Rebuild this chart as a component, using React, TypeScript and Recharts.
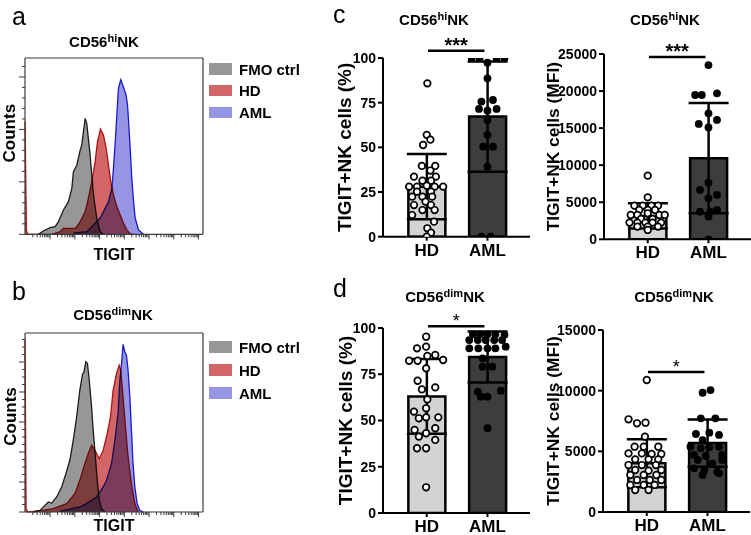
import { Area, Bar, Cell, ComposedChart, ErrorBar, ReferenceLine, Scatter, XAxis, YAxis } from 'recharts'

const FONT = '"Liberation Sans", Arial, Helvetica, sans-serif'
const BOX = '#3a3a3a'

// ---- histograms: x = TIGIT channel (0-100 of the plotted range), y = % of max count
const fmoHi: Array<[number, number]> = [
  [7.5, 0], [10.3, 1.9], [14.1, 3.8], [16.9, 4.3], [18.8, 7.2], [21.6, 13.8], [24.4, 18.5], [26.3, 26],
  [27.2, 35.5], [29.1, 39.2], [31, 47.7], [31.9, 50.6], [32.8, 58.1], [33.8, 65.7], [34.7, 62.8],
  [35.6, 54.3], [36.6, 44.9], [37.5, 33.6], [38.5, 22.3], [40.3, 9.1], [42.2, 1.5], [44.1, 0],
]
const hdHi: Array<[number, number]> = [
  [0, 64], [0.8, 2], [1.6, 0], [15, 0], [19.7, 1.5], [21.6, 3.4], [28.1, 3.4], [29.1, 4.3], [31, 7.2],
  [33.8, 12.8], [35.6, 20.4], [37.5, 29.8], [39.4, 41.1], [40.7, 52.3], [42.4, 59.6], [44.1, 56.2],
  [45.6, 48.7], [46.9, 39.2], [48.2, 29.8], [49.7, 22.3], [51.6, 15.7], [53.5, 10.9], [55.3, 6.2],
  [57.2, 2.5], [59.1, 0.2], [61, 0],
]
const amlHi: Array<[number, number]> = [
  [27.2, 0.6], [34.7, 1.5], [40.3, 7.2], [42.2, 9.1], [45, 14.7], [46.9, 18.5], [48.8, 26], [49.7, 37.4],
  [50.7, 52.5], [51.6, 67.5], [52.5, 82.6], [53.8, 87.7], [55.3, 83.6], [56.8, 78.9], [57.6, 73.2],
  [58.2, 63.8], [59.1, 48.7], [60, 31.7], [61, 18.5], [61.9, 9.1], [63.8, 2.5], [66.6, 0],
]
const fmoDim: Array<[number, number]> = [
  [4.7, 0], [8.4, 0.9], [11.2, 3.7], [13.1, 5.6], [15, 5], [17.8, 8.4], [20.6, 14], [22.4, 19.6],
  [25.2, 28.9], [27.1, 40], [29, 53], [30.8, 68], [32.3, 77], [33.1, 78], [34.2, 84], [35.1, 83],
  [36.1, 73.6], [37.4, 58.7], [38.3, 45.6], [39.4, 32.6], [40.6, 17.7], [41.7, 6.5], [43, 1.9], [44.9, 0],
]
const hdDim: Array<[number, number]> = [
  [0, 96], [0.6, 2], [1.5, 0], [8.4, 0.6], [15.9, 1.9], [23.4, 4.7], [28, 10.2], [30.8, 17.7], [33.6, 27],
  [35.5, 32.6], [37.4, 37.2], [39.3, 34.4], [41.7, 29.8], [43.9, 34.4], [46.2, 43.8], [48, 53.1],
  [49.5, 68], [51.4, 77.3], [52.9, 82], [53.8, 79], [55.1, 64.2], [56.6, 45.6], [57.9, 30.7],
  [59.8, 15.8], [61.7, 4.7], [63.6, 0],
]
const amlDim: Array<[number, number]> = [
  [19.6, 0.4], [30.8, 2.8], [34.6, 4.7], [40.2, 8.4], [43.9, 14], [45.8, 17.7], [48.6, 27], [50.5, 40],
  [52.3, 55], [53.3, 73.6], [54.4, 84.7], [55.1, 93.7], [56.1, 89.4], [57, 87.5], [57.9, 79.1],
  [58.9, 64.2], [59.8, 45.6], [60.7, 27], [61.7, 14], [63, 4.7], [64.5, 0.9], [66.4, 0],
]

const histSeries = [
  { name: 'FMO ctrl', fill: '#979797', stroke: '#1c1c1c' },
  { name: 'HD', fill: '#d26666', stroke: '#b01212' },
  { name: 'AML', fill: '#9595e3', stroke: '#1a1acc' },
]

// log-style TIGIT ticks: decade starts + minor ticks inside each decade
const decadeStarts = [0.2, 14.1, 28, 41.9, 55.8, 69.7, 83.6]
const DECADE = 13.9
const tigitMajors = decadeStarts.map((d) => +(d + DECADE).toFixed(2))
const tigitTicks = decadeStarts.flatMap((d) =>
  [2, 3, 4, 5, 6, 7, 8, 9, 10].map((k) => +(d + DECADE * Math.log10(k)).toFixed(2)),
)
const countTicksHi = Array.from({ length: 17 }, (_, i) => +(i * 5.95).toFixed(2))
const countTicksDim = Array.from({ length: 24 }, (_, i) => +(i * 4.19).toFixed(2))

// ---- dot/bar panels: [jitter within group, value]
const groups = ['HD', 'AML']

const pctHiMeans = [28, 67.2]
const pctHiSd = [18.3, 30.8]
const pctHiHD: Array<[number, number]> = [
  [0.01, 85.8], [0, 57], [0.06, 54.3], [-0.06, 51.3], [-0.08, 39.6], [0.14, 39.6], [0.06, 37], [-0.21, 33.6],
  [0.15, 33.6], [-0.07, 31.3], [0.07, 31.3], [-0.29, 28], [-0.16, 28], [0, 28.5], [0.13, 28], [0.27, 28],
  [-0.16, 25.2], [0.07, 25.2], [-0.24, 22.4], [-0.07, 22.4], [0.09, 22.4], [-0.02, 19.6], [-0.21, 17.7],
  [0.07, 17.7], [-0.07, 14.9], [0.13, 14.9], [-0.24, 12.1], [0.12, 8.4], [0.01, 4.7], [0.07, 2.2], [0, 0],
]
const pctHiAML: Array<[number, number]> = [
  [-0.26, 100], [-0.13, 100], [0.15, 100], [0.28, 100], [0, 97.4], [0, 88.6], [-0.1, 75.6], [0.09, 76.5],
  [-0.14, 71.5], [0, 70.5], [0.15, 71.5], [0, 65.3], [0, 57], [-0.07, 50.4], [0.09, 50.4], [0, 39.2],
  [-0.1, 0], [0.05, 0],
]

const mfiHiMeans = [3150, 10950]
const mfiHiSd = [1700, 7450]
const mfiHiHD: Array<[number, number]> = [
  [0, 8590], [0, 5660], [-0.22, 4540], [-0.08, 4540], [0.06, 4540], [0.17, 4540], [-0.14, 3960], [0, 3960],
  [0.12, 3960], [-0.28, 3280], [-0.17, 3280], [0, 3510], [0.19, 3280], [0.28, 3280], [-0.11, 2740],
  [0.08, 2740], [-0.3, 2250], [-0.17, 2250], [-0.04, 2250], [0.08, 2250], [0.22, 2250], [-0.17, 1710],
  [0, 1710], [0.17, 1710], [0, 1260],
]
const mfiHiAML: Array<[number, number]> = [
  [0, 23500], [-0.22, 19470], [-0.11, 19470], [0.14, 19690], [0, 17000], [-0.16, 15560], [0.14, 16100],
  [0, 15100], [0, 7640], [-0.14, 6650], [0.14, 5980], [0, 5530], [0.14, 3960], [-0.14, 3730], [0.03, 3730],
  [0, 3060], [0, 0],
]

const pctDimMeans = [63, 84.3]
const pctDimSd = [20.2, 13.8]
const pctDimHD: Array<[number, number]> = [
  [-0.01, 95.3], [-0.16, 89], [-0.01, 89.9], [-0.29, 82.3], [-0.15, 82.3], [0.01, 84.9], [0.14, 85.4],
  [0.27, 82.7], [-0.01, 78.2], [-0.15, 71.5], [0.14, 67.9], [-0.08, 66.8], [0.01, 61.4], [-0.21, 54.8],
  [-0.01, 56.6], [-0.13, 51.2], [-0.01, 51.7], [0.19, 51.7], [-0.2, 44.9], [0.14, 45.8], [-0.01, 43.1],
  [-0.13, 41.3], [0.14, 39.5], [-0.16, 35], [-0.01, 35], [-0.01, 13.9],
]
const pctDimAML: Array<[number, number]> = [
  [-0.24, 96.6], [-0.12, 96.6], [0, 96.6], [0.13, 96.6], [0.28, 96.3], [-0.3, 93.5], [-0.16, 93.5],
  [-0.03, 93.5], [0.11, 93.5], [0.24, 93.5], [-0.3, 89], [-0.15, 89], [0, 89], [0.13, 89], [0.3, 89.9],
  [-0.08, 83.6], [-0.08, 79.1], [0.08, 79.1], [-0.16, 65.6], [0.22, 66.1], [0, 62.9], [-0.11, 62.9], [0, 45.8],
]

const mfiDimMeans = [4010, 5680]
const mfiDimSd = [1980, 1950]
const mfiDimHD: Array<[number, number]> = [
  [0, 10880], [-0.3, 7640], [-0.16, 7310], [-0.02, 7360], [-0.03, 6210], [-0.2, 5380], [-0.05, 5380],
  [0.19, 5380], [-0.3, 4830], [-0.08, 4830], [0.08, 4780], [0.24, 4780], [-0.19, 4340], [0.03, 4340],
  [0.19, 4340], [-0.3, 3870], [-0.08, 3870], [0.15, 3870], [-0.19, 3460], [0.03, 3410], [0.24, 3460],
  [-0.27, 3050], [-0.05, 3050], [0.16, 3050], [-0.16, 2640], [0.05, 2640], [0.24, 2640], [-0.27, 2230],
  [-0.05, 2230], [0.13, 2230], [-0.19, 1810], [0.03, 1810],
]
const mfiDimAML: Array<[number, number]> = [
  [-0.08, 9830], [0.05, 10050], [-0.11, 7720], [0.13, 7720], [-0.19, 6430], [0.03, 6540], [0.19, 6350],
  [-0.08, 5930], [-0.28, 5380], [-0.11, 5250], [0.03, 5330], [0.19, 5380], [-0.22, 4700], [-0.03, 4620],
  [0.24, 4700], [-0.16, 4290], [0.08, 4010], [0.24, 4290], [-0.22, 3600], [-0.05, 3460], [0.16, 3320],
  [-0.08, 3050], [0.19, 3190],
]

const SideTitle = ({ viewBox, text, offset, shift = 0, size }: any) => {
  if (!viewBox) return null
  const x = viewBox.x + viewBox.width - offset
  const y = viewBox.y + viewBox.height / 2 + shift
  return (
    <text x={x} y={y} transform={`rotate(-90, ${x}, ${y})`} textAnchor="middle" dominantBaseline="central"
      fontFamily={FONT} fontWeight={700} fontSize={size} fill="#000">
      {text}
    </text>
  )
}

const CountTick = ({ x, y, index, majorEvery }: any) => (
  <line x1={x} y1={y} x2={x - (index % majorEvery === 0 ? 6 : 3)} y2={y} stroke={BOX} strokeWidth={1} />
)

const TigitTick = ({ x, y, payload }: any) => (
  <line x1={x} y1={y} x2={x} y2={y + (tigitMajors.includes(payload.value) ? 5 : 3)} stroke={BOX} strokeWidth={1} />
)

type HistProps = {
  top: number
  plotHeight: number
  labelGap: number
  countsShift: number
  traces: Array<Array<[number, number]>>
  countTicks: number[]
  majorEvery: number
  legendTop: number
  legendStep: number
}

function Histogram({ top, plotHeight, labelGap, countsShift, traces, countTicks, majorEvery, legendTop, legendStep }: HistProps) {
  return (
    <>
      <div style={{ position: 'absolute', left: 0, top: top - 2 }}>
        <ComposedChart width={205} height={2 + plotHeight + labelGap * 2} margin={{ top: 2, right: 2, bottom: 0, left: 0 }}>
          <XAxis dataKey="x" type="number" domain={[0, 100]} ticks={tigitTicks} interval={0}
            tickLine={false} tickSize={0} tickMargin={0} tick={<TigitTick />} height={labelGap * 2}
            axisLine={{ stroke: BOX, strokeWidth: 1.2 }}
            label={{
              content: (p: any) => p.viewBox ? (
                <text x={p.viewBox.x + p.viewBox.width / 2} y={p.viewBox.y + p.viewBox.height / 2} textAnchor="middle"
                  dominantBaseline="central" fontFamily={FONT} fontWeight={700} fontSize={16} fill="#000">TIGIT</text>
              ) : null,
            }} />
          <YAxis dataKey="y" type="number" domain={[0, 100]} ticks={countTicks} interval={0} width={25}
            tickLine={false} tickSize={0} tickMargin={0} tick={<CountTick majorEvery={majorEvery} />}
            axisLine={{ stroke: BOX, strokeWidth: 1.2 }}
            label={{ content: (p: any) => <SideTitle viewBox={p.viewBox} text="Counts" offset={15} shift={countsShift} size={17} /> }} />
          {traces.map((points, i) => (
            <Area key={histSeries[i].name} className="hist-trace" data={points.map(([x, y]) => ({ x, y }))} dataKey="y"
              type="linear" fill={histSeries[i].fill} fillOpacity={1} stroke={histSeries[i].stroke} strokeWidth={1.3}
              dot={false} activeDot={false} isAnimationActive={false} />
          ))}
          <ReferenceLine y={100} stroke={BOX} strokeWidth={1.2} ifOverflow="visible" />
          <ReferenceLine x={100} stroke={BOX} strokeWidth={1.2} ifOverflow="visible" />
        </ComposedChart>
      </div>
      {histSeries.map((s, i) => (
        <div key={s.name} style={{ position: 'absolute', left: 209, top: legendTop + i * legendStep, display: 'flex', alignItems: 'center', height: 12 }}>
          <div style={{ width: 23, height: 11.5, background: s.fill }} />
          <span style={{ marginLeft: 7, fontFamily: FONT, fontWeight: 700, fontSize: 15, color: '#000', whiteSpace: 'nowrap' }}>{s.name}</span>
        </div>
      ))}
    </>
  )
}

const openDot = (p: any) => <circle cx={p.cx} cy={p.cy} r={3.3} fill="#fff" stroke="#000" strokeWidth={1.7} />
const solidDot = (p: any) => <circle cx={p.cx} cy={p.cy} r={3.9} fill="#000" />

const Y_AXIS_W = 64
const PLOT_W = 147
const X_AXIS_H = 26
// numeric x range used for the dots; the category axis is padded to put HD / AML at 1 and 2 of it
const X_DOMAIN = [0.28, 2.7]
const UNIT = PLOT_W / (X_DOMAIN[1] - X_DOMAIN[0])
const CAT_PAD = { left: (0.5 - X_DOMAIN[0]) * UNIT, right: (X_DOMAIN[1] - 2.5) * UNIT }

type PanelProps = {
  plotLeft: number
  plotTop: number
  plotHeight: number
  chartTop: number
  yMax: number
  yTicks: number[]
  yTitle: string
  titleSize: number
  titleOffset: number
  means: number[]
  sds: number[]
  hd: Array<[number, number]>
  aml: Array<[number, number]>
  sigY: number
  sigText: string
  sigBold: boolean
}

function DotBarPanel(p: PanelProps) {
  const marginTop = p.plotTop - p.chartTop
  const bars = groups.map((g, i) => ({ name: g, y: p.means[i], sd: p.sds[i] }))
  const hdPts = p.hd.map(([dx, y]) => ({ x: 1 + dx, y }))
  const amlPts = p.aml.map(([dx, y]) => ({ x: 2 + dx, y }))
  const tickStyle = { fontSize: 14, fontWeight: 700, fill: '#000', fontFamily: FONT }
  return (
    <div style={{ position: 'absolute', left: p.plotLeft - Y_AXIS_W, top: p.chartTop }}>
      <ComposedChart width={Y_AXIS_W + PLOT_W} height={marginTop + p.plotHeight + X_AXIS_H} data={bars}
        margin={{ top: marginTop, right: 0, bottom: 0, left: 0 }}>
        <XAxis xAxisId="cat" dataKey="name" type="category" padding={CAT_PAD} interval={0}
          height={X_AXIS_H} tickSize={4} tickMargin={3}
          tick={{ ...tickStyle, fontSize: 17 }} tickLine={{ stroke: '#000', strokeWidth: 2 }}
          axisLine={{ stroke: '#000', strokeWidth: 2 }} />
        <XAxis xAxisId="num" dataKey="x" type="number" domain={X_DOMAIN} allowDataOverflow hide />
        <YAxis dataKey="y" type="number" domain={[0, p.yMax]} ticks={p.yTicks} interval={0} allowDataOverflow
          width={Y_AXIS_W} tickSize={5} tickMargin={2} tick={tickStyle} tickLine={{ stroke: '#000', strokeWidth: 2 }}
          axisLine={{ stroke: '#000', strokeWidth: 2 }}
          label={{ content: (lp: any) => <SideTitle viewBox={lp.viewBox} text={p.yTitle} offset={p.titleOffset} size={p.titleSize} /> }} />
        <Bar xAxisId="cat" dataKey="y" barSize={37} stroke="#000" strokeWidth={2.5} isAnimationActive={false}>
          {bars.map((b) => (
            <Cell key={b.name} fill={b.name === 'HD' ? '#d3d3d3' : '#3d3d3d'} />
          ))}
          <ErrorBar dataKey="sd" direction="y" width={20} stroke="#000" strokeWidth={2.5} isAnimationActive={false} />
        </Bar>
        <Scatter xAxisId="num" data={hdPts} shape={openDot} isAnimationActive={false} />
        <Scatter xAxisId="num" data={amlPts} shape={solidDot} isAnimationActive={false} />
        <ReferenceLine xAxisId="num" segment={[{ x: 1.02, y: p.sigY }, { x: 1.95, y: p.sigY }]} stroke="#000" strokeWidth={2.5}
          ifOverflow="visible"
          label={{ value: p.sigText, position: 'top', offset: -1, fill: '#000', fontFamily: FONT,
            fontSize: p.sigBold ? 20 : 18, fontWeight: p.sigBold ? 700 : 400 }} />
      </ComposedChart>
    </div>
  )
}

const Title = ({ x, y, sup }: { x: number; y: number; sup: string }) => (
  <text x={x} y={y} textAnchor="middle" fontFamily={FONT} fontWeight={700} fontSize={15} fill="#000">
    CD56<tspan fontSize={11} dy={-5}>{sup}</tspan><tspan dy={5}>NK</tspan>
  </text>
)

export default function App() {
  return (
    <div style={{ position: 'absolute', left: 0, top: 0, width: 751, height: 535, overflow: 'hidden', background: '#fff' }}>
      <style>{'.recharts-area { mix-blend-mode: multiply; }'}</style>

      <Histogram top={58} plotHeight={176.3} labelGap={20} countsShift={-13} traces={[fmoHi, hdHi, amlHi]}
        countTicks={countTicksHi} majorEvery={5} legendTop={63} legendStep={21.7} />
      <Histogram top={332.7} plotHeight={179} labelGap={13} countsShift={-6} traces={[fmoDim, hdDim, amlDim]}
        countTicks={countTicksDim} majorEvery={4} legendTop={341} legendStep={23} />

      <DotBarPanel plotLeft={383} plotTop={58} plotHeight={178.7} chartTop={0} yMax={100} yTicks={[0, 25, 50, 75, 100]}
        yTitle="TIGIT+NK cells (%)" titleSize={19} titleOffset={38} means={pctHiMeans} sds={pctHiSd} hd={pctHiHD} aml={pctHiAML}
        sigY={104} sigText="***" sigBold />
      <DotBarPanel plotLeft={604} plotTop={54} plotHeight={185.3} chartTop={0} yMax={25000}
        yTicks={[0, 5000, 10000, 15000, 20000, 25000]} yTitle="TIGIT+NK cells (MFI)" titleSize={17.4} titleOffset={51}
        means={mfiHiMeans} sds={mfiHiSd} hd={mfiHiHD} aml={mfiHiAML} sigY={24600} sigText="***" sigBold />
      <DotBarPanel plotLeft={383} plotTop={328} plotHeight={185} chartTop={265} yMax={100} yTicks={[0, 25, 50, 75, 100]}
        yTitle="TIGIT+NK cells (%)" titleSize={19} titleOffset={38} means={pctDimMeans} sds={pctDimSd} hd={pctDimHD} aml={pctDimAML}
        sigY={101} sigText="*" sigBold={false} />
      <DotBarPanel plotLeft={603} plotTop={330} plotHeight={182} chartTop={265} yMax={15000}
        yTicks={[0, 5000, 10000, 15000]} yTitle="TIGIT+NK cells (MFI)" titleSize={17.4} titleOffset={50}
        means={mfiDimMeans} sds={mfiDimSd} hd={mfiDimHD} aml={mfiDimAML} sigY={11540} sigText="*" sigBold={false} />

      <svg width={751} height={535} style={{ position: 'absolute', left: 0, top: 0, pointerEvents: 'none' }}>
        <g fontFamily={FONT} fontSize={25} fill="#000">
          <text x={12} y={25}>a</text>
          <text x={12} y={300}>b</text>
          <text x={333} y={23}>c</text>
          <text x={333} y={297}>d</text>
        </g>
        <Title x={104} y={47} sup="hi" />
        <Title x={113} y={320} sup="dim" />
        <Title x={434} y={25} sup="hi" />
        <Title x={665} y={25} sup="hi" />
        <Title x={445} y={302} sup="dim" />
        <Title x={674} y={302} sup="dim" />
      </svg>
    </div>
  )
}
